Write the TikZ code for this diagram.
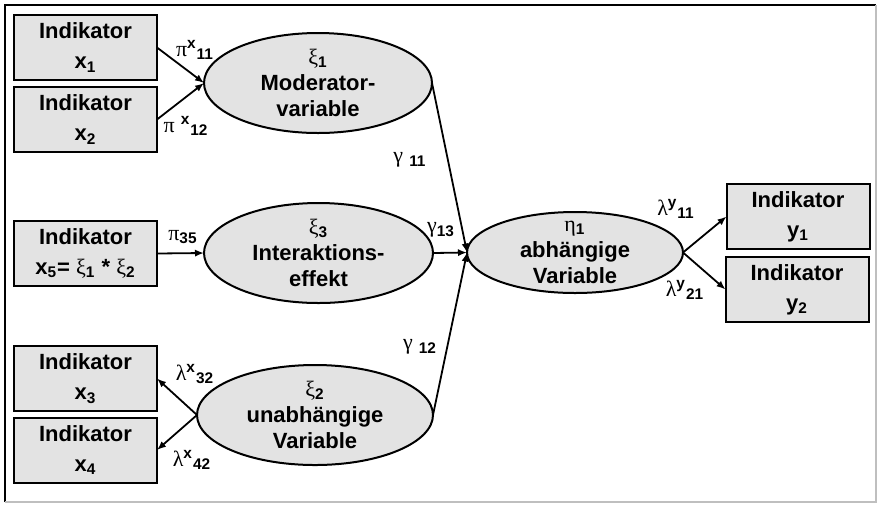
\documentclass[tikz,border=0pt]{standalone}
\usepackage{fontspec}
\setmainfont{Liberation Sans}
\newfontfamily\greekfont{Liberation Serif}
\usetikzlibrary{shapes.geometric,arrows.meta}
\newcommand{\gr}[1]{{\mdseries\greekfont #1}}

\begin{document}
\begin{tikzpicture}[x=0.5pt,y=-0.5pt,
  every node/.style={font=\fontsize{11}{15}\selectfont\bfseries, outer sep=0pt},
  indbox/.style={draw, line width=1pt, fill=gray!22, minimum width=71.5pt, minimum height=32.5pt, inner sep=0pt, align=center},
  latent/.style={ellipse, draw, line width=1pt, fill=gray!22, inner xsep=0pt, inner ysep=-6pt, align=center, font=\fontsize{11}{13}\selectfont\bfseries},
  coef/.style={inner sep=0pt},
  effect/.style={-{Latex[length=4.5pt,width=3.6pt]}, line width=0.9pt}]
\useasboundingbox (0,0) rectangle (877,505);
\draw[line width=1.2pt] (5,502) -- (5,5) -- (876,5);
\draw[gray!50, line width=0.8pt] (876,5) -- (876,502) -- (5,502);

\node[indbox] (x1) at (85.5,47.5) {Indikator\\x\textsubscript{1}};
\node[indbox] (x2) at (85.5,119.5) {Indikator\\x\textsubscript{2}};
\node[indbox] (x5) at (85.5,253.5) {Indikator\\x\textsubscript{5}= \gr{ξ}\textsubscript{1} * \gr{ξ}\textsubscript{2}};
\node[indbox] (x3) at (85.5,378.5) {Indikator\\x\textsubscript{3}};
\node[indbox] (x4) at (85.5,450) {Indikator\\x\textsubscript{4}};
\node[indbox] (y1) at (798,216.5) {Indikator\\y\textsubscript{1}};
\node[indbox] (y2) at (797,289.5) {Indikator\\y\textsubscript{2}};

\node[latent, minimum width=114pt, minimum height=50pt] (xi1) at (318,83) {\gr{ξ}\textsubscript{1}\\Moderator-\\variable};
\node[latent, minimum width=114.5pt, minimum height=50pt] (xi3) at (318.5,253) {\gr{ξ}\textsubscript{3}\\Interaktions-\\effekt};
\node[latent, minimum width=118pt, minimum height=50pt] (xi2) at (315,415) {\gr{ξ}\textsubscript{2}\\unabhängige\\Variable};
\node[latent, minimum width=108pt, minimum height=40.5pt] (eta1) at (575,252.5) {\gr{η}\textsubscript{1}\\abhängige\\Variable};

\draw[effect] (x1.east) -- (xi1.west);
\draw[effect] (x2.east) -- (xi1.west);
\draw[effect] (x5.east) -- (xi3.west);
\draw[effect] (xi2.west) -- (x3.east);
\draw[effect] (xi2.west) -- (x4.east);
\draw[effect] (xi1.east) -- (eta1.west);
\draw[effect] (xi3.east) -- (eta1.west);
\draw[effect] (xi2.east) -- (eta1.west);
\draw[effect] (eta1.east) -- (y1.west);
\draw[effect] (eta1.east) -- (y2.west);

\node[coef] (pi11) at (195,50) {\gr{π}\textsuperscript{x}\textsubscript{11}};
\node[coef] (pi12) at (186,126) {\gr{π} \textsuperscript{x}\textsubscript{12}};
\node[coef] (pi35) at (183,237) {\gr{π}\textsubscript{35}};
\node[coef] (lam32) at (195,374) {\gr{λ}\textsuperscript{x}\textsubscript{32}};
\node[coef] (lam42) at (192,460) {\gr{λ}\textsuperscript{x}\textsubscript{42}};
\node[coef] (gam11) at (410,160) {\gr{γ} \textsubscript{11}};
\node[coef] (gam13) at (441,230) {\gr{γ}\textsubscript{13}};
\node[coef] (gam12) at (420,347) {\gr{γ} \textsubscript{12}};
\node[coef] (lamy11) at (676,209) {\gr{λ}\textsuperscript{y}\textsubscript{11}};
\node[coef] (lamy21) at (685,290) {\gr{λ}\textsuperscript{y}\textsubscript{21}};
\end{tikzpicture}
\end{document}
